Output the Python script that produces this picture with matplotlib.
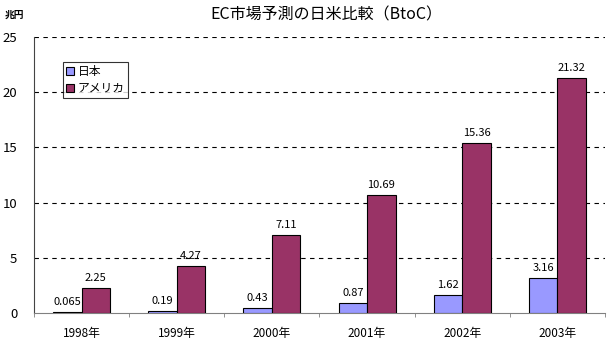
import numpy as np
import matplotlib.pyplot as plt
from matplotlib.patches import Patch

plt.rcParams['font.family'] = ['Noto Sans CJK JP', 'DejaVu Sans']

years = ["1998年", "1999年", "2000年", "2001年", "2002年", "2003年"]
japan = [0.065, 0.19, 0.43, 0.87, 1.62, 3.16]
america = [2.25, 4.27, 7.11, 10.69, 15.36, 21.32]
japan_labels = ["0.065", "0.19", "0.43", "0.87", "1.62", "3.16"]
america_labels = ["2.25", "4.27", "7.11", "10.69", "15.36", "21.32"]

JP_C, US_C = "#9999ff", "#993366"

fig = plt.figure(figsize=(6.09, 3.47), dpi=100)
ax = fig.add_axes([34/609, 1-313/347, (605-34)/609, (313-37)/347])

x = np.arange(len(years))
w = 0.3
ax.bar(x - w/2, japan, w, color=JP_C, edgecolor="black", lw=0.8, zorder=3)
ax.bar(x + w/2, america, w, color=US_C, edgecolor="black", lw=0.8, zorder=3)

# 値ラベル
for xi, v, s in zip(x, japan, japan_labels):
    ax.text(xi - w/2, v + 0.45, s, ha="center", va="bottom", fontsize=8, zorder=4)
for xi, v, s in zip(x, america, america_labels):
    ax.text(xi + w/2, v + 0.45, s, ha="center", va="bottom", fontsize=8, zorder=4)

ax.set_xlim(-0.5, len(years) - 0.5)
ax.set_ylim(0, 25)
ax.set_yticks([0, 5, 10, 15, 20, 25])
ax.tick_params(axis="y", length=0, labelsize=9.5, pad=12)
ax.set_xticks(x)
ax.set_xticklabels(years, fontsize=8.5)
ax.tick_params(axis="x", length=0, pad=10)
ax.set_xticks(np.arange(-0.5, len(years)), minor=True)
ax.tick_params(axis="x", which="minor", length=3, direction="out", color="gray")
for yv in [5, 10, 15, 20, 25]:
    ax.axhline(yv, color="black", lw=0.8, ls=(0, (4, 4)), zorder=1)

for s in ("top", "right"):
    ax.spines[s].set_visible(False)
ax.spines["left"].set_color("#444444")
ax.spines["bottom"].set_color("gray")

handles = [Patch(facecolor=JP_C, edgecolor="black", lw=0.8, label="日本"),
           Patch(facecolor=US_C, edgecolor="black", lw=0.8, label="アメリカ")]
leg = ax.legend(handles=handles, loc="upper left", bbox_to_anchor=(0.05, 0.91),
                fontsize=8.5, frameon=True, fancybox=False, edgecolor="black",
                handlelength=0.7, handleheight=0.7, handletextpad=0.3,
                borderpad=0.3, labelspacing=0.3, borderaxespad=0)
leg.get_frame().set_linewidth(0.8)

fig.text(326/609, 1-15/347, "EC市場予測の日米比較（BtoC）", ha="center", va="center", fontsize=11.5)
fig.text(14/609, 1-15/347, "兆円", ha="center", va="center", fontsize=7, fontweight="bold")

fig.savefig("out.png", dpi=100, facecolor="white")
